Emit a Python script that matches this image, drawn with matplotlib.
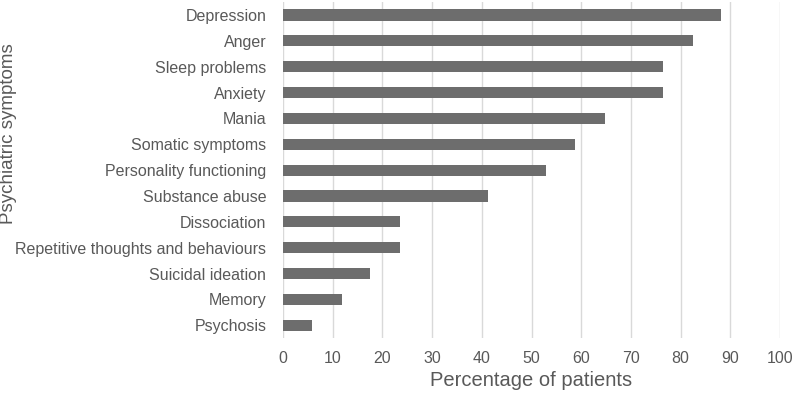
import matplotlib.pyplot as plt

symptoms = ["Depression", "Anger", "Sleep problems", "Anxiety", "Mania",
            "Somatic symptoms", "Personality functioning", "Substance abuse",
            "Dissociation", "Repetitive thoughts and behaviours",
            "Suicidal ideation", "Memory", "Psychosis"]
percent = [88.2, 82.4, 76.5, 76.5, 64.7, 58.8, 52.9, 41.2, 23.5, 23.5, 17.6, 11.8, 5.9]
xticks = list(range(0, 101, 10))

plt.rcParams['font.family'] = ['Liberation Sans', 'DejaVu Sans']
text_col = '#595959'

fig = plt.figure(figsize=(7.96, 4.18), dpi=100)
ax = fig.add_axes([0.3555, 0.191, 0.6245, 0.804])

pos = list(range(len(symptoms)))
ax.barh(pos, percent, height=0.43, color='#6d6d6d', zorder=3)
ax.set_ylim(len(symptoms) - 0.5, -0.5)
ax.set_yticks(pos)
ax.set_yticklabels(symptoms, fontsize=11.5, color=text_col)
ax.set_xlim(0, 100)
ax.set_xticks(xticks)
ax.set_xticklabels([str(t) for t in xticks], fontsize=11.5, color=text_col)
ax.grid(axis='x', color='#d9d9d9', linewidth=1, zorder=0)
ax.tick_params(axis='y', length=0, pad=12)
ax.tick_params(axis='x', length=0, pad=9)
for s in ax.spines.values():
    s.set_visible(False)

ax.set_xlabel("Percentage of patients", fontsize=14.5, color=text_col, labelpad=4)
ax.set_ylabel("Psychiatric symptoms", fontsize=13.5, color=text_col)
ax.yaxis.set_label_coords(-0.535, 0.61)

fig.savefig("out.png", dpi=100)
